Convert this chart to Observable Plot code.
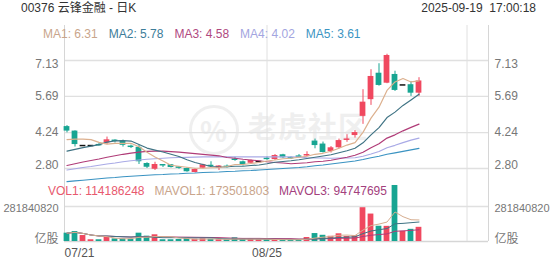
<!DOCTYPE html>
<html><head><meta charset="utf-8">
<script src="https://cdn.jsdelivr.net/npm/d3@7"></script>
<script src="https://cdn.jsdelivr.net/npm/@observablehq/plot@0.6"></script>
<style>
body{margin:0;background:#fff;font-family:"Liberation Sans",Arial,"Noto Sans CJK SC",sans-serif;}
#wrap{position:relative;width:552px;height:265px;overflow:hidden;background:#fff;}
.abs{position:absolute;white-space:pre;font-size:12px;line-height:14px;}
.leg{display:flex;gap:11px;}
</style></head><body>
<div id="wrap">
  <div id="wm" style="position:absolute;left:0;top:0;width:552px;height:265px;">
    <div style="position:absolute;left:189px;top:105px;width:44px;height:44px;border:3px solid #efefef;border-radius:50%;"></div>
    <div style="position:absolute;left:200px;top:110px;font-size:28px;color:#efefef;font-weight:bold;font-family:'Noto Sans CJK SC'">%</div>
    <div style="position:absolute;left:248px;top:108px;font-size:29px;line-height:34px;color:#efefef;font-weight:bold;font-family:'Noto Sans CJK SC';letter-spacing:1px">老虎社区</div>
  </div>
  <div id="price" style="position:absolute;left:0;top:0"></div>
  <div id="vol" style="position:absolute;left:0;top:182px"></div>
  <div class="abs" style="left:21px;top:1px;color:#333">00376 云锋金融 - 日K</div>
  <div class="abs" style="right:16px;top:1px;color:#333">2025-09-19  17:00:18</div>
  <div id="maLegend" class="abs leg" style="left:43px;top:27px"></div>
  <div id="volLegend" class="abs leg" style="left:48px;top:184px;gap:10px"></div>
</div>
<script>
// ---- data ----
const tickIdx = [0, 25];
const tickLabels = ["07/21", "08/25"];
const open  = [4.48,4.30,3.72,3.72,3.76,3.82,3.94,3.90,3.70,3.65, 3.00,2.77,2.96,2.95,2.86,2.80,2.64,2.81,2.93,2.81, 2.89,3.18,3.07,3.01,3.08,3.21,3.16,3.35,3.24,3.30, 3.34,3.90,3.78,3.48,3.63,3.96,4.12,4.89,5.56,6.62, 6.22,6.57,6.15,6.16,5.82];
const high  = [4.52,4.31,3.72,3.72,3.80,4.06,3.95,3.94,3.74,3.73, 3.03,3.05,2.96,2.95,2.88,2.82,2.79,2.97,3.07,2.92, 2.94,3.25,3.10,3.14,3.08,3.27,3.36,3.37,3.27,3.36, 3.47,3.98,3.86,3.68,3.98,4.15,4.32,5.96,6.76,7.00, 7.38,6.70,6.15,6.29,6.44];
const low   = [4.23,3.66,3.72,3.72,3.70,3.76,3.82,3.66,3.60,2.96, 2.80,2.72,2.84,2.82,2.77,2.65,2.62,2.79,2.84,2.72, 2.82,3.09,2.90,2.98,3.08,3.13,3.12,3.20,3.16,3.24, 3.27,3.59,3.42,3.42,3.59,3.85,4.02,4.57,5.33,6.10, 6.20,5.89,6.15,5.69,5.69];
const close = [4.30,3.76,3.72,3.72,3.75,3.95,3.92,3.73,3.68,3.07, 2.85,2.96,2.94,2.84,2.85,2.67,2.76,2.95,2.91,2.90, 2.88,3.16,2.96,3.12,3.08,3.20,3.32,3.23,3.23,3.29, 3.36,3.72,3.44,3.63,3.92,3.99,4.24,5.46,6.49,6.13, 7.33,5.93,6.15,5.82,6.31];
const volume = [67e6,80e6,48e6,14e6,14e6,40e6,21e6,21e6,18e6,67e6, 43e6,54e6,14e6,14e6,16e6,27e6,18e6,21e6,18e6,14e6, 14e6,30e6,18e6,18e6,14e6,14e6,16e6,14e6,14e6,14e6, 32e6,64e6,50e6,42e6,62e6,40e6,45e6,272e6,221e6,123e6, 122e6,451e6,82e6,98e6,114186248];
const ma1 = [3.96,3.98,3.98,3.96,3.85,3.78,3.81,3.81,3.81,3.67, 3.45,3.26,3.10,2.93,2.89,2.85,2.81,2.81,2.83,2.84, 2.88,2.96,2.96,3.00,3.04,3.10,3.14,3.19,3.21,3.25, 3.29,3.37,3.41,3.49,3.61,3.74,3.84,4.25,4.82,5.26, 5.93,6.27,6.41,6.27,6.31];
const ma2 = [3.50,3.57,3.64,3.70,3.76,3.86,3.91,3.92,3.90,3.76, 3.62,3.54,3.46,3.37,3.28,3.15,3.04,2.96,2.88,2.86, 2.87,2.89,2.89,2.92,2.94,2.99,3.05,3.08,3.11,3.15, 3.20,3.25,3.30,3.35,3.43,3.51,3.61,3.83,4.15,4.44, 4.84,5.06,5.33,5.55,5.78];
const ma3 = [2.92,2.99,3.06,3.12,3.18,3.25,3.31,3.37,3.42,3.46, 3.49,3.50,3.50,3.48,3.46,3.43,3.40,3.37,3.34,3.31, 3.24,3.21,3.17,3.14,3.11,3.07,3.04,3.02,2.99,3.01, 3.03,3.07,3.09,3.13,3.19,3.25,3.33,3.45,3.63,3.79, 4.02,4.15,4.31,4.45,4.58];
const ma4 = [2.74,2.79,2.84,2.88,2.93,2.98,3.02,3.07,3.11,3.14, 3.17,3.19,3.21,3.23,3.24,3.25,3.26,3.27,3.27,3.27, 3.27,3.27,3.27,3.27,3.27,3.27,3.27,3.27,3.27,3.26, 3.23,3.22,3.22,3.21,3.22,3.22,3.23,3.29,3.38,3.48, 3.63,3.73,3.84,3.94,4.02];
const ma5 = [2.27,2.30,2.33,2.36,2.39,2.42,2.44,2.47,2.49,2.51, 2.53,2.55,2.56,2.58,2.59,2.61,2.62,2.64,2.65,2.66, 2.68,2.69,2.71,2.72,2.74,2.76,2.78,2.80,2.82,2.84, 2.87,2.91,2.94,2.98,3.02,3.06,3.10,3.16,3.23,3.29, 3.37,3.43,3.49,3.55,3.61];
const priceTicks = [2.80, 4.24, 5.69, 7.13];
const volTicks = [281840820];
const maNames = ["MA1","MA2","MA3","MA4","MA5"];
const maLast = ["6.31","5.78","4.58","4.02","3.61"];
const volNames = ["VOL1","MAVOL1","MAVOL3"];
const volLast = ["114186248","173501803","94747695"];

// ---- styling ----
const RED = "#f0485f", TEAL = "#17a592", DOJI = "#111";
const maLine = ["#dcb08e","#3f7384","#b03c78","#a9aae6","#3a93c2"];
const maText = ["#c9a58b","#3d7d99","#b0497f","#a3a5e0","#3c95c3"];
const volText = ["#e8596e","#c9a58b","#a3407d"];
const volLine = ["#d6ad90","#3f7384","#b03c78"];
const GRID = "#e0e0e0", LINE = "#d6d6d6", LABEL = "#777";
const xDomain = [-0.3125, 52.6875];
const xGrid = [25, 50];

const rows = open.map((o, i) => ({i, open: o, high: high[i], low: low[i], close: close[i], vol: volume[i],
  ma1: ma1[i], ma2: ma2[i], ma3: ma3[i], ma4: ma4[i], ma5: ma5[i]}));
const cColor = d => d.close > d.open ? RED : d.close < d.open ? TEAL : DOJI;
const vColor = d => d.close >= d.open ? RED : TEAL;
const hw = 0.36;
const svgStyle = {fontFamily: "'Liberation Sans', Arial, 'Noto Sans CJK SC', sans-serif", fontSize: "12px", background: "transparent", overflow: "visible"};
const yAx = (anchor, ticks, extra) => Plot.axisY({anchor, ticks, tickSize: 0, tickPadding: 6, label: null,
  tickFormat: d => d.toFixed(2), fill: LABEL, fontSize: 12, ...extra});

const price = Plot.plot({
  width: 552, height: 182, marginLeft: 64, marginRight: 64, marginTop: 25, marginBottom: 0,
  style: svgStyle,
  x: {type: "linear", domain: xDomain, axis: null, label: null},
  y: {domain: [2.80, 7.13], range: [168, 60], axis: null, label: null},
  marks: [
    Plot.ruleY(priceTicks, {stroke: GRID, strokeWidth: 1.3}),
    Plot.ruleX(xDomain, {stroke: LINE}),
    Plot.ruleX(xGrid, {stroke: GRID}),
    Plot.ruleX(rows, {x: "i", y1: "low", y2: "high", stroke: cColor, strokeWidth: 1}),
    Plot.rect(rows.filter(d => Math.abs(d.close - d.open) >= 0.035), {
      x1: d => d.i - hw, x2: d => d.i + hw,
      y1: d => Math.min(d.open, d.close), y2: d => Math.max(d.open, d.close), fill: cColor}),
    Plot.ruleY(rows.filter(d => Math.abs(d.close - d.open) < 0.035), {
      y: d => (d.open + d.close) / 2, x1: d => d.i - hw, x2: d => d.i + hw, stroke: cColor, strokeWidth: 1.5}),
    Plot.line(rows, {x: "i", y: "ma5", stroke: maLine[4], strokeWidth: 1.2}),
    Plot.line(rows, {x: "i", y: "ma4", stroke: maLine[3], strokeWidth: 1.2}),
    Plot.line(rows, {x: "i", y: "ma3", stroke: maLine[2], strokeWidth: 1.2}),
    Plot.line(rows, {x: "i", y: "ma2", stroke: maLine[1], strokeWidth: 1.2}),
    Plot.line(rows, {x: "i", y: "ma1", stroke: maLine[0], strokeWidth: 1.2}),
    yAx("left", [4.24, 5.69], {}),
    yAx("left", [7.13], {dy: 4}),
    yAx("left", [2.80], {dy: -3}),
    yAx("right", [4.24, 5.69], {}),
    yAx("right", [7.13], {dy: 4}),
    yAx("right", [2.80], {dy: -3})
  ]
});
document.getElementById("price").appendChild(price);

const vol = Plot.plot({
  width: 552, height: 83, marginLeft: 64, marginRight: 64, marginTop: 0, marginBottom: 24,
  style: svgStyle,
  x: {type: "linear", domain: xDomain, axis: null, label: null},
  y: {domain: [0, volTicks[0]], range: [59, 24], axis: null, label: null},
  marks: [
    Plot.ruleY(volTicks, {stroke: GRID, strokeWidth: 1.3}),
    Plot.ruleY([0], {stroke: LINE, strokeWidth: 1.3}),
    Plot.ruleX(xDomain, {stroke: LINE}),
    Plot.ruleX(xGrid, {stroke: GRID}),
    Plot.rectY(rows, {x1: d => d.i - hw, x2: d => d.i + hw, y: "vol", fill: vColor}),
    Plot.lineY(rows, Plot.windowY({k: 20, anchor: "end", reduce: "mean", strict: false}, {x: "i", y: "vol", stroke: volLine[2], strokeWidth: 1})),
    Plot.lineY(rows, Plot.windowY({k: 10, anchor: "end", reduce: "mean", strict: false}, {x: "i", y: "vol", stroke: volLine[1], strokeWidth: 1})),
    Plot.lineY(rows, Plot.windowY({k: 5, anchor: "end", reduce: "mean", strict: false}, {x: "i", y: "vol", stroke: volLine[0], strokeWidth: 1})),
    Plot.axisY({anchor: "left", ticks: volTicks, tickSize: 0, tickPadding: 6, label: null, tickFormat: d => String(d), fill: LABEL, fontSize: 11, dy: 2}),
    Plot.axisY({anchor: "right", ticks: volTicks, tickSize: 0, tickPadding: 6, label: null, tickFormat: d => String(d), fill: LABEL, fontSize: 11, dy: 2}),
    Plot.text(["亿股"], {text: d => d, frameAnchor: "bottom-left", textAnchor: "end", lineAnchor: "bottom", dx: -6, dy: 1, fill: LABEL, fontSize: 12}),
    Plot.text(["亿股"], {text: d => d, frameAnchor: "bottom-right", textAnchor: "start", lineAnchor: "bottom", dx: 6, dy: 1, fill: LABEL, fontSize: 12}),
    Plot.text([0], {x: d => tickIdx[d], text: d => tickLabels[d], frameAnchor: "bottom", textAnchor: "start", lineAnchor: "top", dx: -2.5, dy: 7, fill: "#555", fontSize: 12}),
    Plot.text([1], {x: d => tickIdx[d], text: d => tickLabels[d], frameAnchor: "bottom", textAnchor: "middle", lineAnchor: "top", dy: 7, fill: "#555", fontSize: 12})
  ]
});
document.getElementById("vol").appendChild(vol);

const maLeg = document.getElementById("maLegend");
maNames.forEach((n, k) => {
  const s = document.createElement("span");
  s.textContent = `${n}: ${maLast[k]}`; s.style.color = maText[k]; maLeg.appendChild(s);
});
const volLeg = document.getElementById("volLegend");
volNames.forEach((n, k) => {
  const s = document.createElement("span");
  s.textContent = `${n}: ${volLast[k]}`; s.style.color = volText[k]; volLeg.appendChild(s);
});
</script>
</body></html>
